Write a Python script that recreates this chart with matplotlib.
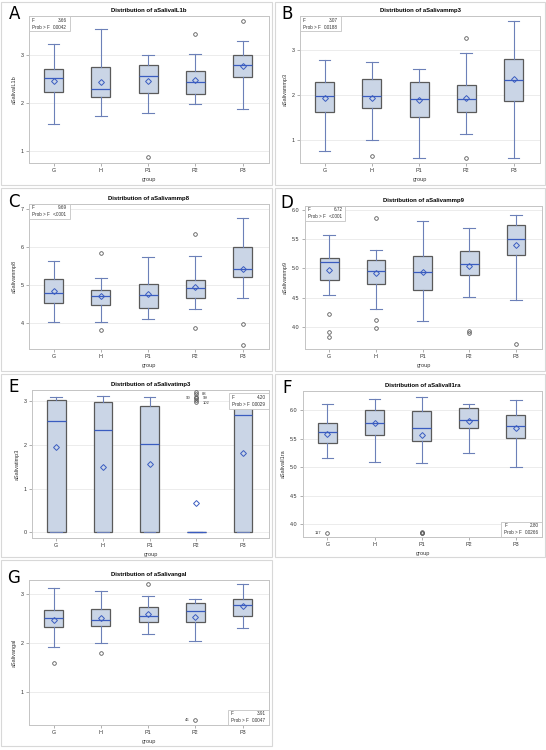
import matplotlib
matplotlib.use("Agg")
import matplotlib.pyplot as plt
from matplotlib.patches import Rectangle

plt.rcParams["font.family"] = ["Liberation Sans", "DejaVu Sans"]

W, H = 546, 750
groups = ["G", "H", "P1", "P2", "P3"]

# per group: [whisker low, Q1, median, Q3, whisker high]
il1b_box = [[1.57, 2.23, 2.52, 2.70, 3.23], [1.73, 2.12, 2.29, 2.74, 3.54],
            [1.79, 2.20, 2.56, 2.79, 2.99], [1.98, 2.19, 2.43, 2.66, 3.02],
            [1.88, 2.53, 2.79, 2.99, 3.30]]
il1b_mean = [2.46, 2.43, 2.46, 2.47, 2.77]
il1b_out = [[], [], [0.88], [3.44], [3.70]]

mmp3_box = [[0.75, 1.61, 1.97, 2.28, 2.77], [0.99, 1.70, 1.97, 2.35, 2.73],
            [0.59, 1.50, 1.90, 2.28, 2.57], [1.13, 1.61, 1.90, 2.21, 2.93],
            [0.59, 1.87, 2.33, 2.81, 3.64]]
mmp3_mean = [1.94, 1.94, 1.88, 1.94, 2.35]
mmp3_out = [[], [0.63], [], [3.27, 0.59], []]

mmp8_box = [[4.03, 4.53, 4.79, 5.15, 5.63], [4.04, 4.47, 4.70, 4.88, 5.19],
            [4.10, 4.39, 4.74, 5.04, 5.73], [4.38, 4.65, 4.93, 5.13, 5.76],
            [4.65, 5.21, 5.42, 6.00, 6.77]]
mmp8_mean = [4.85, 4.70, 4.77, 4.94, 5.42]
mmp8_out = [[], [5.84, 3.81], [], [6.35, 3.87], [3.97, 3.43]]

mmp9_box = [[4.54, 4.80, 5.10, 5.17, 5.56], [4.31, 4.74, 4.96, 5.15, 5.32],
            [4.10, 4.64, 4.94, 5.21, 5.80], [4.52, 4.88, 5.07, 5.29, 5.69],
            [4.46, 5.22, 5.50, 5.73, 5.90]]
mmp9_mean = [4.97, 4.92, 4.93, 5.04, 5.39]
mmp9_out = [[4.22, 3.92, 3.84], [5.85, 4.12, 3.99], [], [3.94, 3.90], [3.71]]

timp3_box = [[0.0, 0.0, 2.54, 3.02, 3.10], [0.0, 0.0, 2.34, 2.98, 3.11],
             [0.0, 0.0, 2.02, 2.88, 3.08], [0.0, 0.0, 0.0, 0.0, 0.0],
             [0.0, 0.0, 2.69, 3.02, 3.10]]
timp3_mean = [1.94, 1.50, 1.56, 0.66, 1.81]
timp3_out = [[], [], [], [3.20, 3.15, 3.10, 3.06, 3.02, 2.97], []]

il1ra_box = [[5.17, 5.42, 5.62, 5.78, 6.12], [5.09, 5.57, 5.78, 6.01, 6.20],
             [5.07, 5.46, 5.69, 5.99, 6.24], [5.25, 5.70, 5.84, 6.05, 6.12],
             [5.00, 5.52, 5.72, 5.92, 6.19]]
il1ra_mean = [5.59, 5.78, 5.56, 5.82, 5.70]
il1ra_out = [[3.85], [], [3.85, 3.85, 3.86], [], []]

ngal_box = [[1.93, 2.33, 2.52, 2.67, 3.12], [2.01, 2.35, 2.48, 2.69, 3.06],
            [2.18, 2.44, 2.56, 2.74, 2.97], [2.04, 2.44, 2.65, 2.83, 2.91],
            [2.30, 2.56, 2.77, 2.90, 3.20]]
ngal_mean = [2.48, 2.51, 2.60, 2.54, 2.76]
ngal_out = [[1.59], [1.81], [3.20], [0.44], []]

f_values = ["3.66", "3.07", "9.69", "6.72", "4.20", "2.80", "3.91"]
p_values = ["0.0042", "0.0188", "<.0001", "<.0001", "0.0029", "0.0266", "0.0047"]

BOX_FILL = "#cad5e6"
BOX_EDGE = "#5a5a5a"
WHISK = "#6c80b8"
MED = "#3a5cc0"
OUTC = "#585858"
TXT = "#333333"


def fig_rect(l, t, r, b):
    return [l / W, 1 - b / H, (r - l) / W, (b - t) / H]


def draw_panel(ax, name, box, mean, out, ylim, yticks, fmt):
    stats = []
    for b, m, o in zip(box, mean, out):
        stats.append(dict(whislo=b[0], q1=b[1], med=b[2], q3=b[3], whishi=b[4],
                          mean=m, fliers=o))
    ax.bxp(stats, positions=range(1, 6), widths=0.4, capwidths=0.25,
           patch_artist=True, showmeans=True, manage_ticks=False,
           boxprops=dict(facecolor=BOX_FILL, edgecolor=BOX_EDGE, linewidth=0.9),
           whiskerprops=dict(color=WHISK, linewidth=0.8),
           capprops=dict(color=WHISK, linewidth=0.8),
           medianprops=dict(color=MED, linewidth=0.9),
           meanprops=dict(marker="D", markersize=3.0, markerfacecolor="none",
                          markeredgecolor=MED, markeredgewidth=0.7),
           flierprops=dict(marker="o", markersize=2.6, markerfacecolor="none",
                           markeredgecolor=OUTC, markeredgewidth=0.6),
           zorder=3)
    ax.set_xlim(0.48, 5.56)
    ax.set_ylim(*ylim)
    ax.set_xticks(range(1, 6))
    ax.set_xticklabels(groups)
    ax.set_yticks(yticks)
    ax.set_yticklabels([fmt.format(v) for v in yticks])
    ax.tick_params(labelsize=3.9, length=2, width=0.5, color="#909090",
                   pad=1.8, labelcolor=TXT)
    for s in ax.spines.values():
        s.set_color("#c4c4c4")
        s.set_linewidth(0.7)
    ax.grid(axis="y", color="#e9e9e9", linewidth=0.6, zorder=0)
    ax.set_axisbelow(True)
    ax.set_xlabel("group", fontsize=4, labelpad=2.5, color=TXT)
    ax.set_ylabel(name, fontsize=4, labelpad=3, color=TXT)
    ax.set_title("Distribution of " + name, fontsize=4.3, fontweight="bold", pad=3)


def draw_inset(ax, fval, pval, loc):
    w, h = 0.17, 0.105
    if loc == "ul":
        x0, y0 = 0.0, 1.0 - h
    elif loc == "ur":
        x0, y0 = 1.0 - w, 1.0 - h - 0.02
    else:
        x0, y0 = 1.0 - w, 0.0
    ax.add_patch(Rectangle((x0, y0), w, h, transform=ax.transAxes,
                           facecolor="white", edgecolor="#c4c4c4",
                           linewidth=0.6, zorder=5))
    kw = dict(transform=ax.transAxes, fontsize=3.3, color=TXT, zorder=6,
              va="center")
    ax.text(x0 + 0.012, y0 + h * 0.74, "F", ha="left", **kw)
    ax.text(x0 + w - 0.012, y0 + h * 0.74, fval, ha="right", **kw)
    ax.text(x0 + 0.012, y0 + h * 0.28, "Prob > F", ha="left", **kw)
    ax.text(x0 + w - 0.012, y0 + h * 0.28, pval, ha="right", **kw)


fig = plt.figure(figsize=(W / 100, H / 100), dpi=100)

borders = [(1, 2, 272, 185), (275, 2, 545, 185), (1, 188, 272, 371),
           (275, 188, 545, 371), (1, 374, 272, 557), (275, 374, 545, 557),
           (1, 560, 272, 746)]
for l, t, r, b in borders:
    fig.patches.append(Rectangle((l / W, 1 - b / H), (r - l) / W, (b - t) / H,
                                 transform=fig.transFigure, facecolor="none",
                                 edgecolor="#d8d8d8", linewidth=0.8))

panels = [
    ("A", (15, 14), (29, 16, 269, 163), "aSalivaIL1b", il1b_box, il1b_mean, il1b_out,
     (0.75, 3.81), [1, 2, 3], "{:g}", "ul"),
    ("B", (287, 14), (300, 16, 540, 163), "aSalivammp3", mmp3_box, mmp3_mean, mmp3_out,
     (0.48, 3.76), [1, 2, 3], "{:g}", "ul"),
    ("C", (14, 202), (29, 204, 269, 349), "aSalivammp8", mmp8_box, mmp8_mean, mmp8_out,
     (3.32, 7.13), [4, 5, 6, 7], "{:g}", "ul"),
    ("D", (287, 203), (305, 206, 542, 349), "aSalivammp9", mmp9_box, mmp9_mean, mmp9_out,
     (3.63, 6.06), [4.0, 4.5, 5.0, 5.5, 6.0], "{:.1f}", "ul"),
    ("E", (14, 387), (32, 390, 269, 538), "aSalivatimp3", timp3_box, timp3_mean, timp3_out,
     (-0.13, 3.25), [0, 1, 2, 3], "{:g}", "ur"),
    ("F", (287, 388), (303, 391, 542, 537), "aSalivaIl1ra", il1ra_box, il1ra_mean, il1ra_out,
     (3.78, 6.34), [4.0, 4.5, 5.0, 5.5, 6.0], "{:.1f}", "lr"),
    ("G", (14, 578), (29, 580, 269, 725), "aSalivangal", ngal_box, ngal_mean, ngal_out,
     (0.33, 3.29), [1, 2, 3], "{:g}", "lr"),
]

axes = []
for i, (letter, lpos, rect, name, box, mean, out, ylim, yt, fmt, loc) in enumerate(panels):
    ax = fig.add_axes(fig_rect(*rect))
    draw_panel(ax, name, box, mean, out, ylim, yt, fmt)
    draw_inset(ax, f_values[i], p_values[i], loc)
    fig.text(lpos[0] / W, 1 - lpos[1] / H, letter, fontsize=12, ha="center",
             va="center", color="black", family=["DejaVu Sans"])
    axes.append(ax)

# outlier labels
lab = dict(fontsize=3.0, color=TXT, va="center", zorder=4)
axes[5].text(0.86, 3.85, "117", ha="right", **lab)
axes[6].text(3.87, 0.44, "46", ha="right", **lab)
axes[4].text(3.87, 3.06, "90", ha="right", **lab)
axes[4].text(4.13, 3.17, "88", ha="left", **lab)
axes[4].text(4.13, 3.06, "99", ha="left", **lab)
axes[4].text(4.13, 2.95, "102", ha="left", **lab)

fig.savefig("out.png", dpi=100)
